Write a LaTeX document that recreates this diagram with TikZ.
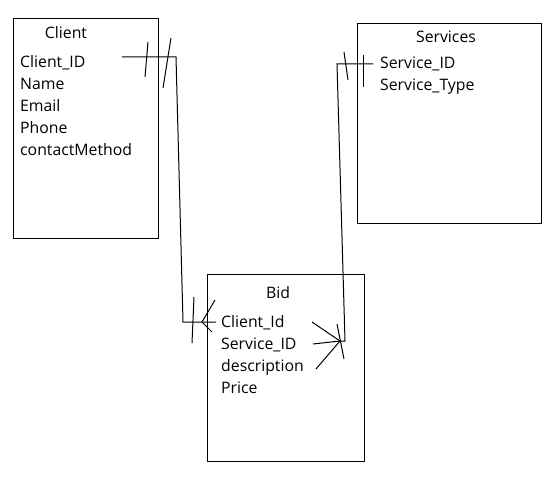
\documentclass[tikz,border=0pt]{standalone}
\usepackage{fontspec}
\setmainfont{Open Sans}
\begin{document}
\begin{tikzpicture}[x=1pt,y=-1pt,
  box/.style={draw,line width=1pt,inner sep=0,anchor=north west},
  lbl/.style={anchor=base west,inner sep=0,font=\fontsize{15.8}{18}\selectfont},
  ttl/.style={anchor=base,inner sep=0,font=\fontsize{15.8}{18}\selectfont},
  conn/.style={line width=1pt},
  tick/.style={line width=1pt}]
\useasboundingbox (0,0) rectangle (552,487);
% boxes
\node[box,minimum width=145pt,minimum height=220pt] (client) at (13,18) {};
\node[box,minimum width=184pt,minimum height=200pt] (services) at (357,23) {};
\node[box,minimum width=157pt,minimum height=187pt] (bid) at (207,274) {};
% texts
\node[ttl] (tclient) at (66,39) {Client};
\node[lbl] (c1) at (20,67) {Client\_ID};
\node[lbl] (c2) at (20,89) {Name};
\node[lbl] (c3) at (20,111) {Email};
\node[lbl] (c4) at (20,133) {Phone};
\node[lbl] (c5) at (20,155) {contactMethod};
\node[ttl] (tserv) at (446,43) {Services};
\node[lbl] (s1) at (380,69) {Service\_ID};
\node[lbl] (s2) at (380,91) {Service\_Type};
\node[ttl] (tbid) at (278,298) {Bid};
\node[lbl] (b1) at (221,327) {Client\_Id};
\node[lbl] (b2) at (221,349) {Service\_ID};
\node[lbl] (b3) at (221,371) {description};
\node[lbl] (b4) at (221,393) {Price};
% connector Client - Bid
\coordinate (p1) at (122,57);
\coordinate (p2) at (176,57);
\coordinate (p3) at (183,322);
\coordinate (p4) at (216,322);
\coordinate (pa) at (202,322);
\draw[conn] (p1) -- (p2) -- (p3) -- (p4);
\draw[tick] (148,42) -- (145,77);
\draw[tick] (171,38) -- (163,88);
\draw[tick] (194,297) -- (192,343);
\draw[conn] (215,300) -- (pa) -- (212,332);
% connector Services - Bid
\coordinate (q1) at (373,64);
\coordinate (q2) at (337,64);
\coordinate (q3) at (345,341);
\coordinate (qa) at (340,341);
\draw[conn] (q1) -- (q2) -- (q3) -- (qa);
\draw[tick] (344,52) -- (348,80);
\draw[tick] (363,55) -- (363,87);
\draw[tick] (337,324) -- (344,359);
\draw[conn] (312,322) -- (qa);
\draw[conn] (313,344) -- (qa);
\draw[conn] (316,369) -- (qa);
\end{tikzpicture}
\end{document}
